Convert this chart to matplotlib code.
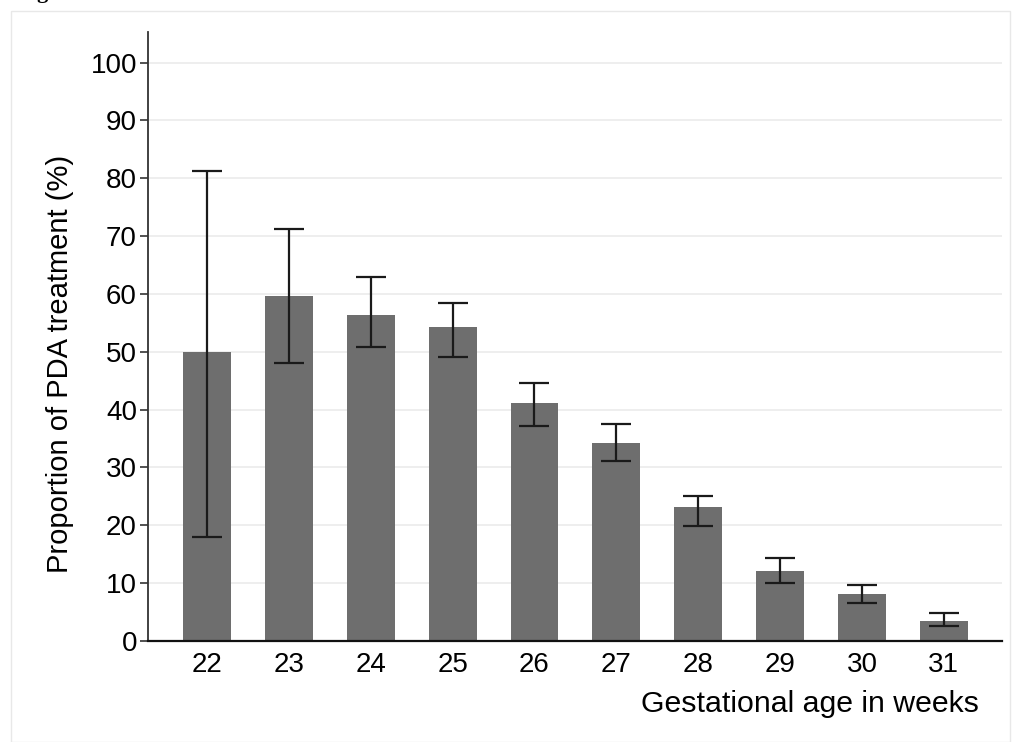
import numpy as np
import matplotlib.pyplot as plt
from matplotlib.patches import Rectangle

# gestational age (weeks) and proportion treated with 95% CI
weeks = [22, 23, 24, 25, 26, 27, 28, 29, 30, 31]
prop = [50.0, 59.7, 56.4, 54.3, 41.2, 34.2, 23.1, 12.1, 8.2, 3.5]
ci_low = [18.0, 48.1, 50.9, 49.1, 37.2, 31.1, 19.9, 10.0, 6.5, 2.6]
ci_high = [81.3, 71.3, 62.9, 58.4, 44.6, 37.6, 25.1, 14.3, 9.7, 4.9]
yticks = list(range(0, 101, 10))

plt.rcParams['font.family'] = ['Liberation Sans', 'DejaVu Sans']

fig = plt.figure(figsize=(10.14, 7.42), dpi=100)
fig.patches.append(Rectangle((11/1014, 0), 999/1014, 731/742, transform=fig.transFigure,
                             fill=False, edgecolor='#e8e8e8', linewidth=1))
# remnant of the cropped figure caption at the very top
fig.text(42/1014, 1 + 2/742, 'g', fontsize=16, fontweight='bold',
         family='Liberation Serif', ha='center', va='baseline')

ax = fig.add_axes([148/1014, 1 - 641/742, (1002 - 148)/1014, (641 - 32)/742])

x = np.array(weeks)
p = np.array(prop)
yerr = [p - np.array(ci_low), np.array(ci_high) - p]

ax.bar(x, p, width=0.585, color='#6e6e6e', zorder=2)
ax.errorbar(x, p, yerr=yerr, fmt='none', ecolor='#1a1a1a', elinewidth=1.6,
            capsize=11, capthick=1.6, zorder=3)

ax.set_xlim(21.28, 31.71)
ax.set_ylim(0, 105.3)
ax.set_xticks(weeks)
ax.set_yticks(yticks)
ax.yaxis.grid(True, color='#ebebeb', linewidth=1.2, zorder=0)
ax.set_axisbelow(True)

for s in ['top', 'right']:
    ax.spines[s].set_visible(False)
ax.spines['left'].set_color('#333333')
ax.spines['left'].set_linewidth(1.3)
ax.spines['bottom'].set_color('#111111')
ax.spines['bottom'].set_linewidth(1.6)

ax.tick_params(axis='y', length=6, width=1.2, color='#333333', labelsize=20, pad=2)
ax.tick_params(axis='x', length=0, labelsize=20, pad=8)

ax.set_ylabel('Proportion of PDA treatment (%)', fontsize=21)
ax.yaxis.set_label_coords(-0.103, 0.455)
ax.yaxis.label.set_va('center')

ax.set_xlabel('Gestational age in weeks', fontsize=21.8)
ax.xaxis.set_label_coords(0.973, -0.1034)
ax.xaxis.label.set_ha('right')
ax.xaxis.label.set_va('center')

fig.savefig('out.png', dpi=100)
